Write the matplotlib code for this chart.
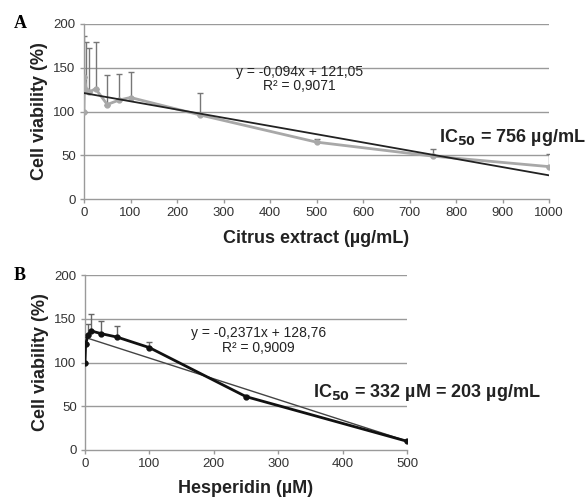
import numpy as np
import matplotlib
matplotlib.use("Agg")
from matplotlib import pyplot as plt

plt.rcParams['font.family'] = ['Liberation Sans', 'DejaVu Sans']

# panel A - citrus extract
conc_a = [0, 1, 5, 10, 25, 50, 75, 100, 250, 500, 750, 1000]
viab_a = [100, 139, 125, 122, 126, 108, 113, 116, 96, 65, 49, 37]
err_a = [0, 47, 54, 51, 53, 34, 30, 29, 25, 4, 8, 14]
slope_a, icpt_a = -0.094, 121.05

# panel B - hesperidin
conc_b = [0, 1, 5, 10, 25, 50, 100, 250, 500]
viab_b = [100, 121, 132, 136, 133, 129, 117, 61, 10]
err_b = [0, 0, 12, 19, 14, 13, 7, 2, 0]
slope_b, icpt_b = -0.2371, 128.76

yticks = [0, 50, 100, 150, 200]


def style_axes(ax, xmax, xstep):
    ax.set_xlim(0, xmax)
    ax.set_ylim(0, 200)
    ax.set_yticks(yticks)
    ax.set_xticks(np.arange(0, xmax + 1, xstep))
    for s in ['top', 'right']:
        ax.spines[s].set_visible(False)
    for s in ['left', 'bottom']:
        ax.spines[s].set_color('#9a9a9a')
        ax.spines[s].set_linewidth(1)
    for y in yticks[1:]:
        ax.axhline(y, color='#9a9a9a', lw=1, zorder=0)
    ax.tick_params(labelsize=9.5, colors='#9a9a9a', labelcolor='#333333',
                   length=3, width=1, pad=3)
    ax.set_ylabel("Cell viability (%)", fontsize=13, fontweight='bold',
                  color='#222222', labelpad=4)


fig = plt.figure(figsize=(5.86, 5.0), dpi=100)

# ---- A
axa = fig.add_axes([84/586, 301/500, 465/586, 175/500])
style_axes(axa, 1000, 100)
zeros_a = np.zeros(len(err_a))
axa.errorbar(conc_a, viab_a, yerr=[zeros_a, err_a], fmt='none',
             ecolor='#777777', elinewidth=1, capsize=2, capthick=1, zorder=2)
axa.plot(conc_a, viab_a, color='#a8a8a8', lw=2, marker='o', ms=3.5, zorder=3)
xa = np.array([0, 1000])
axa.plot(xa, slope_a*xa + icpt_a, color='#222222', lw=1.3, zorder=4)
axa.text(464, 145, "y = -0,094x + 121,05", ha='center', va='center',
         fontsize=10, color='#222222')
axa.text(464, 129, "R² = 0,9071", ha='center', va='center',
         fontsize=10, color='#222222')
axa.text(763, 70, r"IC$_{\mathbf{50}}$ = 756 µg/mL", ha='left', va='center',
         fontsize=13, fontweight='bold', color='#222222', clip_on=False)
axa.set_xlabel("Citrus extract (µg/mL)", fontsize=13, fontweight='bold',
               color='#222222', labelpad=8)
fig.text(20/586, 1 - 24/500, "A", fontsize=13, fontweight='bold',
         family='Liberation Serif', ha='center', va='center')

# ---- B
axb = fig.add_axes([85/586, 50/500, 322/586, 175/500])
style_axes(axb, 500, 100)
zeros_b = np.zeros(len(err_b))
axb.errorbar(conc_b, viab_b, yerr=[zeros_b, err_b], fmt='none',
             ecolor='#666666', elinewidth=1, capsize=2, capthick=1, zorder=2)
xb = np.array([0, 500])
axb.plot(xb, slope_b*xb + icpt_b, color='#444444', lw=1, zorder=3)
axb.plot(conc_b, viab_b, color='#111111', lw=2, marker='o', ms=3.5, zorder=4)
axb.text(269, 134, "y = -0,2371x + 128,76", ha='center', va='center',
         fontsize=10, color='#222222')
axb.text(269, 117, "R² = 0,9009", ha='center', va='center',
         fontsize=10, color='#222222')
axb.text(354, 66, r"IC$_{\mathbf{50}}$ = 332 µM = 203 µg/mL", ha='left',
         va='center', fontsize=13, fontweight='bold', color='#222222',
         clip_on=False)
axb.set_xlabel("Hesperidin (µM)", fontsize=13, fontweight='bold',
               color='#222222', labelpad=7)
fig.text(20/586, 1 - 275/500, "B", fontsize=13, fontweight='bold',
         family='Liberation Serif', ha='center', va='center')

fig.savefig("out.png", dpi=100)
